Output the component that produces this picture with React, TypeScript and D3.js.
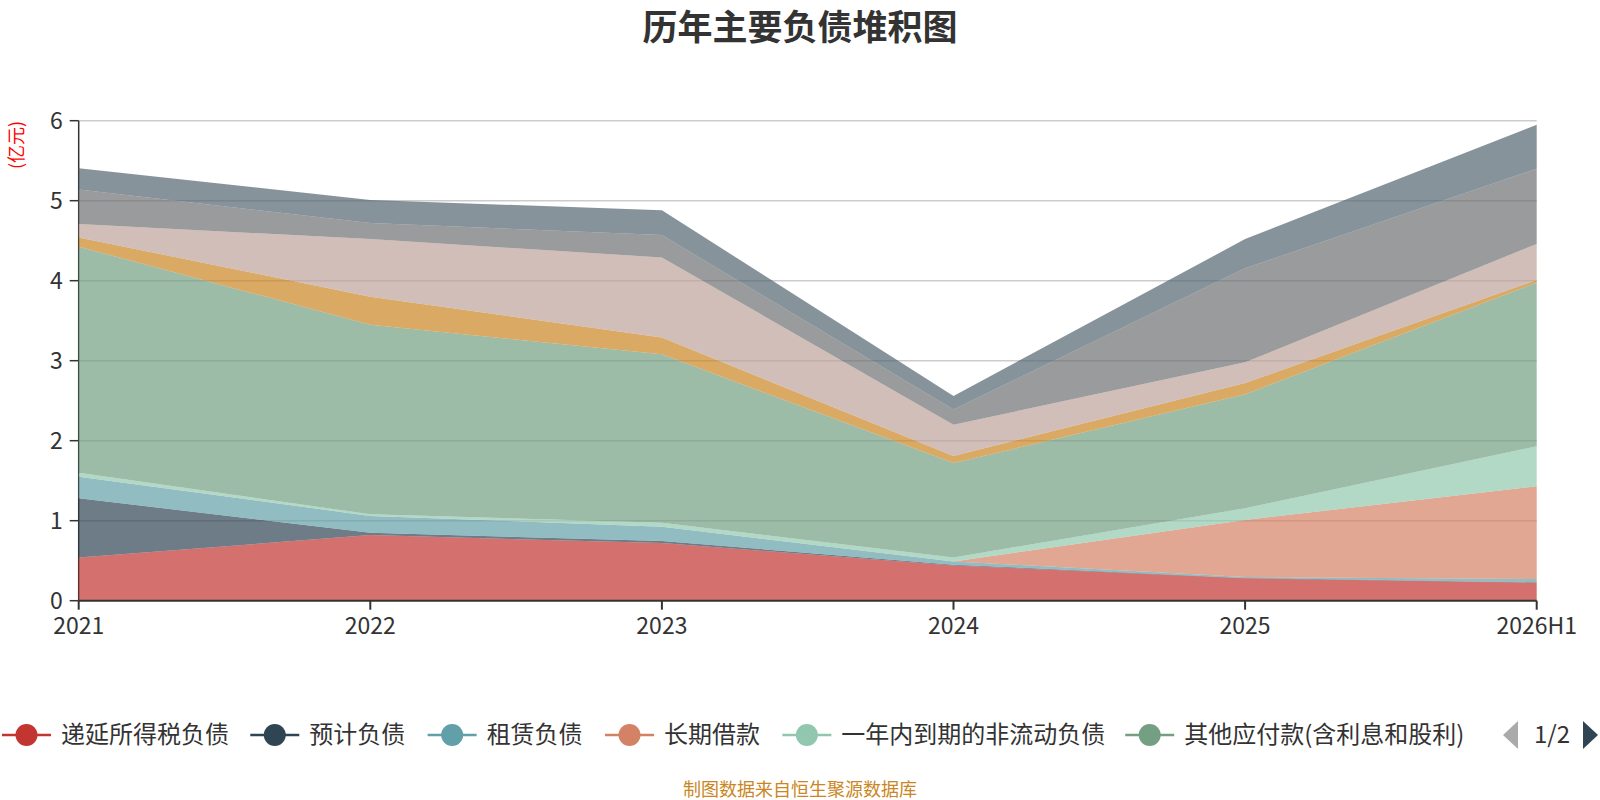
import React from "react";
import * as d3 from "d3";

// 年份
const years = ["2021", "2022", "2023", "2024", "2025", "2026H1"];

// 各负债项目（亿元），自下而上堆积
const deferredTax = [0.54, 0.82, 0.72, 0.44, 0.28, 0.225];
const provisions = [0.74, 0.03, 0.025, 0.01, 0.005, 0.005];
const leaseLiab = [0.27, 0.21, 0.18, 0.04, 0.01, 0.04];
const longLoan = [0, 0, 0, 0, 0.715, 1.16];
const currentNonCurrent = [0.05, 0.02, 0.05, 0.05, 0.145, 0.5];
const otherPayables = [2.825, 2.37, 2.105, 1.18, 1.425, 2.045];
const accountsPayable = [0.115, 0.35, 0.21, 0.09, 0.14, 0.035];
const contractLiab = [0.17, 0.72, 1.0, 0.39, 0.26, 0.45];
const staffPay = [0.43, 0.2, 0.28, 0.19, 1.175, 0.94];
const taxesPayable = [0.265, 0.29, 0.31, 0.17, 0.365, 0.55];

const seriesNames = [
  "递延所得税负债",
  "预计负债",
  "租赁负债",
  "长期借款",
  "一年内到期的非流动负债",
  "其他应付款(含利息和股利)",
  "应付账款",
  "合同负债",
  "应付职工薪酬",
  "应交税费",
];
const seriesValues = [
  deferredTax,
  provisions,
  leaseLiab,
  longLoan,
  currentNonCurrent,
  otherPayables,
  accountsPayable,
  contractLiab,
  staffPay,
  taxesPayable,
];
const colors = [
  "#c23531",
  "#2f4554",
  "#61a0a8",
  "#d48265",
  "#91c7ae",
  "#749f83",
  "#ca8622",
  "#bda29a",
  "#6e7074",
  "#546570",
];
const legendPageSize = 6;
const yTicks = [0, 1, 2, 3, 4, 5, 6];

const W = 1600;
const H = 800;
const left = 78.7;
const right = 1536.7;
const top = 120.7;
const bottom = 600.7;
const font = "'Noto Sans CJK SC', 'Noto Sans', sans-serif";

// rough width of legend text
const textW = (s: string, size: number) =>
  Array.from(s).reduce((acc, c) => acc + (c.charCodeAt(0) > 255 ? size * 0.985 : size * 0.33), 0);

const App = () => {
  const table = years.map((y, i) => {
    const row: any = { year: y };
    seriesNames.forEach((n, k) => (row[n] = seriesValues[k][i]));
    return row;
  });

  const stacked = d3.stack<any>().keys(seriesNames)(table);

  const x = d3.scalePoint<string>().domain(years).range([left, right]);
  const y = d3.scaleLinear().domain([0, 6]).range([bottom, top]);

  const area = d3
    .area<any>()
    .x((d) => x(d.data.year) as number)
    .y0((d) => y(d[0]))
    .y1((d) => y(d[1]));

  // legend layout
  const legendY = 735;
  const lgSize = 24;
  let cursor = 2;
  const legendItems = seriesNames.slice(0, legendPageSize).map((name, i) => {
    const item = { name, color: colors[i], x: cursor };
    cursor += 49 + 10 + textW(name, lgSize) + 23.8;
    return item;
  });

  return (
    <svg
      width={W}
      height={H}
      style={{ position: "absolute", left: 0, top: 0, background: "#fff" }}
      fontFamily={font}
    >
      <text x={800} y={40} textAnchor="middle" fontSize={35} fontWeight="bold" fill="#333">
        历年主要负债堆积图
      </text>

      {/* grid */}
      {yTicks.map((t) =>
        t === 0 ? null : (
          <line key={t} x1={left} x2={right} y1={y(t)} y2={y(t)} stroke="#ccc" strokeWidth={1.5} />
        )
      )}

      {/* y axis */}
      <line x1={left} x2={left} y1={top} y2={bottom} stroke="#333" strokeWidth={1.5} />
      {yTicks.map((t) => (
        <g key={t}>
          <line x1={left - 9} x2={left} y1={y(t)} y2={y(t)} stroke="#333" strokeWidth={1.5} />
          <text x={left - 16} y={y(t)} dy="0.35em" textAnchor="end" fontSize={23} fill="#333">
            {t}
          </text>
        </g>
      ))}
      <text
        transform={`translate(23,145) rotate(-90)`}
        textAnchor="middle"
        fontSize={18}
        fill="#ff0000"
      >
        (亿元)
      </text>

      {/* areas */}
      {stacked.map((s, i) => (
        <path key={s.key} d={area(s) as string} fill={colors[i]} fillOpacity={0.7} stroke="none" />
      ))}

      {/* x axis */}
      <line x1={left} x2={right} y1={bottom} y2={bottom} stroke="#333" strokeWidth={2} />
      {years.map((yr) => (
        <g key={yr}>
          <line
            x1={x(yr)}
            x2={x(yr)}
            y1={bottom}
            y2={bottom + 9}
            stroke="#333"
            strokeWidth={2}
          />
          <text x={x(yr)} y={bottom + 25} dy="0.35em" textAnchor="middle" fontSize={23} fill="#333">
            {yr}
          </text>
        </g>
      ))}

      {/* legend */}
      {legendItems.map((it) => (
        <g key={it.name}>
          <line x1={it.x} x2={it.x + 49} y1={legendY} y2={legendY} stroke={it.color} strokeWidth={2.5} />
          <circle cx={it.x + 24.5} cy={legendY} r={11} fill={it.color} />
          <text x={it.x + 59} y={legendY} dy="0.35em" fontSize={lgSize} fill="#333">
            {it.name}
          </text>
        </g>
      ))}
      <path d={`M1518,${legendY - 14} L1503,${legendY} L1518,${legendY + 14} Z`} fill="#aaa" />
      <text x={1552} y={legendY} dy="0.35em" textAnchor="middle" fontSize={24} fill="#333">
        1/{Math.ceil(seriesNames.length / legendPageSize)}
      </text>
      <path d={`M1583,${legendY - 14} L1598,${legendY} L1583,${legendY + 14} Z`} fill="#2f4554" />

      <text x={800} y={790} dy="0.35em" textAnchor="middle" fontSize={18} fill="#ca8622">
        制图数据来自恒生聚源数据库
      </text>
    </svg>
  );
};

export default App;
